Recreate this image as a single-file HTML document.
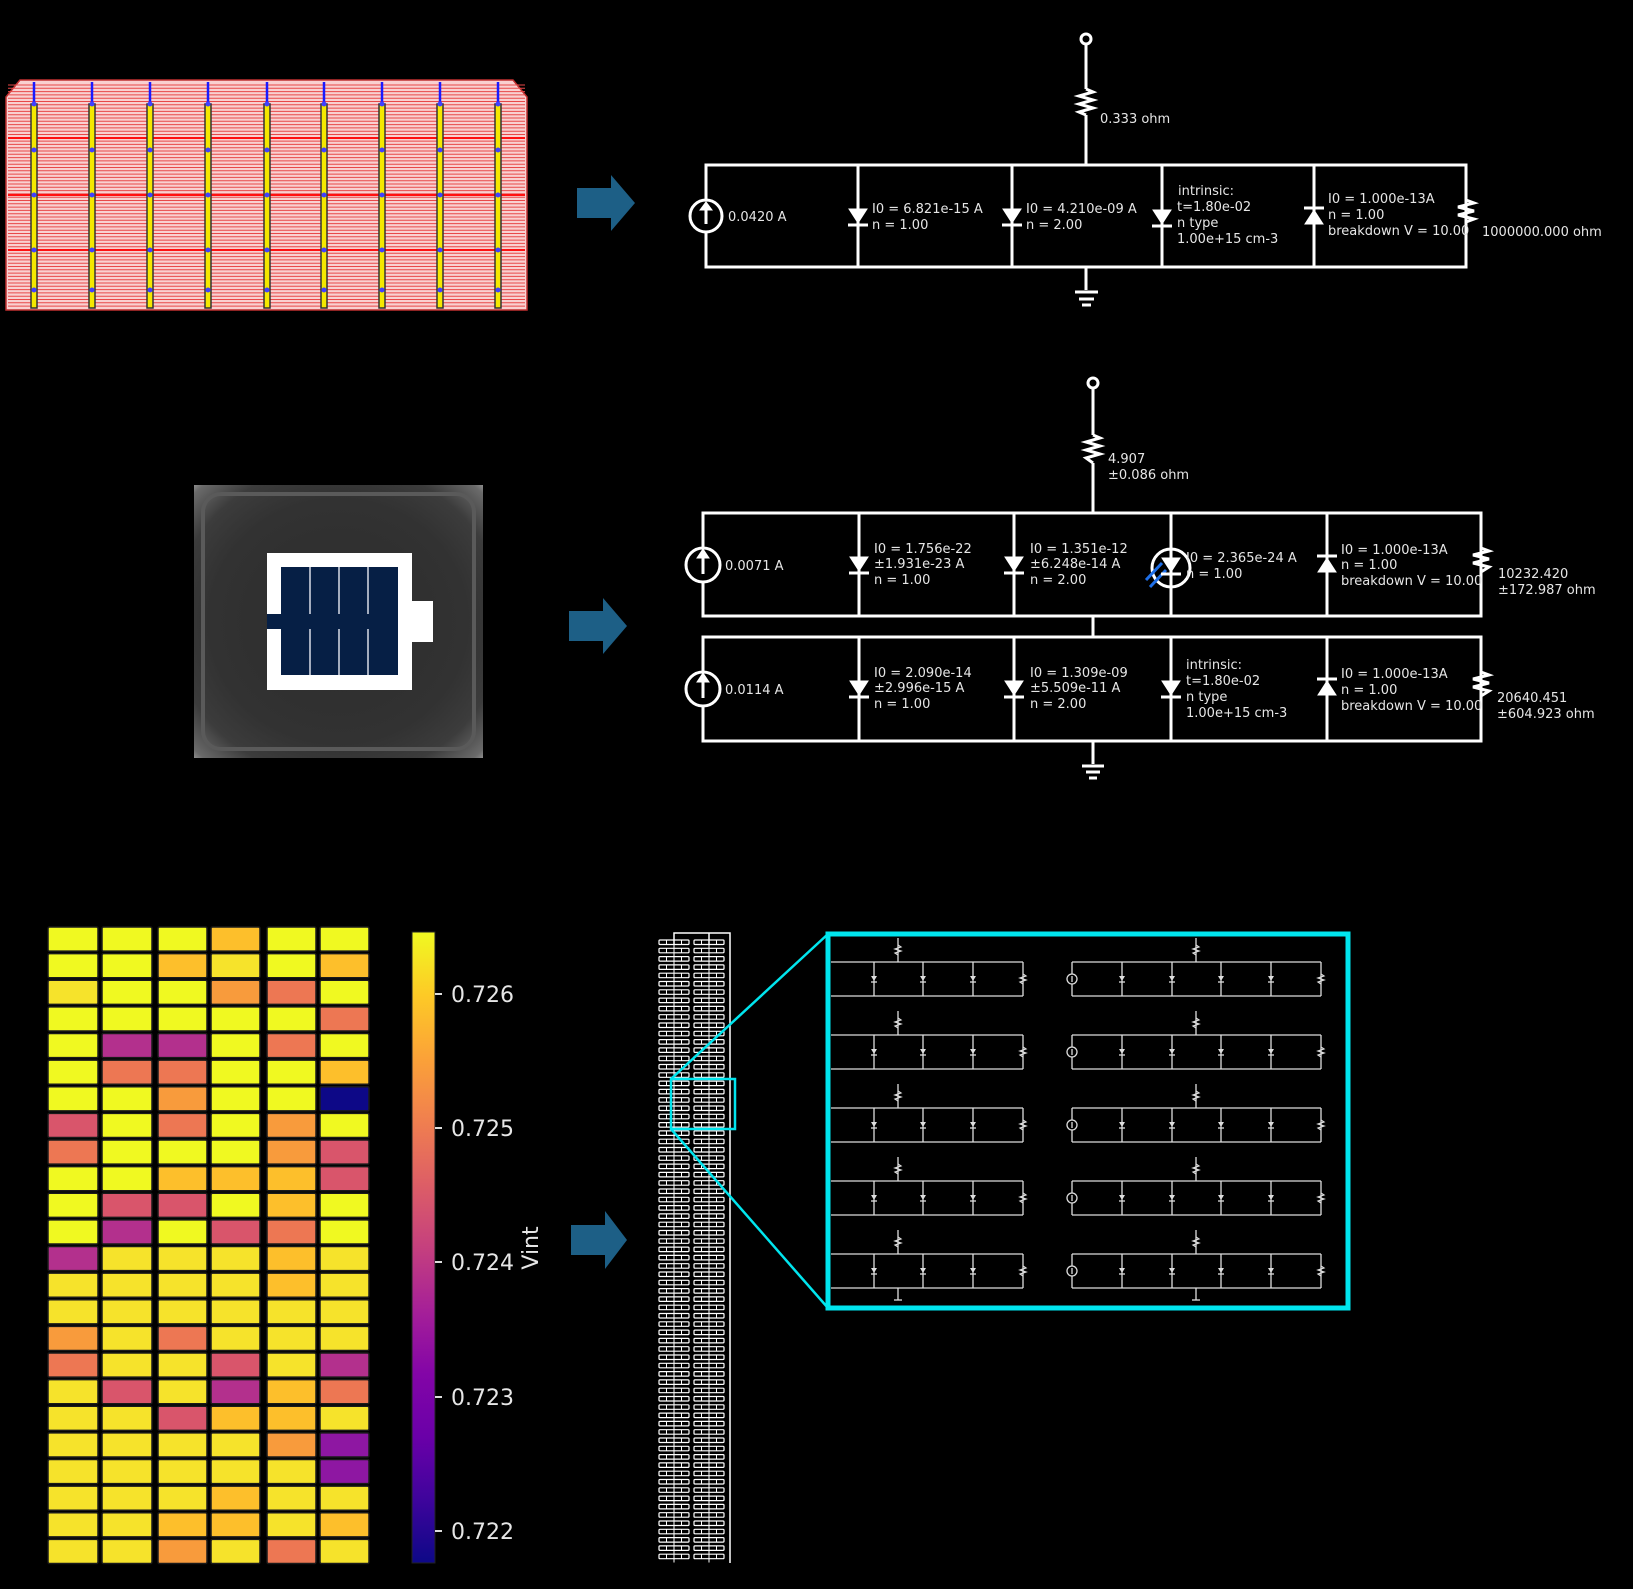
<!DOCTYPE html>
<html><head><meta charset="utf-8">
<style>
html,body{margin:0;padding:0;background:#000;}
svg{display:block}
text{font-family:"DejaVu Sans","Liberation Sans",sans-serif;fill:#e6e6e6}
</style></head>
<body>
<svg id="s" width="1633" height="1589" viewBox="0 0 1633 1589" xmlns="http://www.w3.org/2000/svg">
<defs>
<linearGradient id="plasma" x1="0" y1="0" x2="0" y2="1">
<stop offset="0" stop-color="#f0f921"/><stop offset=".1" stop-color="#fdca26"/><stop offset=".2" stop-color="#fba238"/><stop offset=".3" stop-color="#f07f4f"/><stop offset=".4" stop-color="#dd5e66"/><stop offset=".5" stop-color="#c5407e"/><stop offset=".6" stop-color="#a62098"/><stop offset=".7" stop-color="#8305a7"/><stop offset=".8" stop-color="#6a00a8"/><stop offset=".9" stop-color="#3e049c"/><stop offset="1" stop-color="#0d0887"/>
</linearGradient>
<radialGradient id="photo" cx=".5" cy=".5" r=".72">
<stop offset="0" stop-color="#2c2c2c"/><stop offset=".62" stop-color="#323232"/><stop offset=".8" stop-color="#3c3c3c"/><stop offset=".95" stop-color="#6a6a6a"/><stop offset="1" stop-color="#a0a0a0"/>
</radialGradient>
</defs>
<rect width="1633" height="1589" fill="#000"/>

<!-- top solar cell -->
<path d="M6,97 L20,80 L513,80 L527,97 L527,310 L6,310 Z" fill="#f9d0d0" stroke="#c03030" stroke-width="1.5"/>
<g id="solar"></g>

<!-- arrows -->
<g fill="#1d5f86">
<path d="M577,188 L611,188 L611,175 L635,203 L611,231 L611,218 L577,218 Z"/>
<path d="M569,611 L603,611 L603,598 L627,626 L603,654 L603,641 L569,641 Z"/>
<path d="M571,1225 L605,1225 L605,1211 L627,1240 L605,1269 L605,1255 L571,1255 Z"/>
</g>

<!-- circuit 1 -->
<g stroke="#fff" stroke-width="3" fill="none">
<circle cx="1086" cy="39" r="5"/>
<line x1="1086" y1="44" x2="1086" y2="89"/>
<polyline points="1086,89 1093,92 1079,96 1093,100 1079,104 1093,108 1079,112 1086,115"/>
<line x1="1086" y1="115" x2="1086" y2="165"/>
<rect x="706" y="165" width="760" height="102"/>
<line x1="858" y1="165" x2="858" y2="267"/>
<line x1="1012" y1="165" x2="1012" y2="267"/>
<line x1="1162" y1="165" x2="1162" y2="267"/>
<line x1="1314" y1="165" x2="1314" y2="267"/>
<line x1="1086" y1="267" x2="1086" y2="290"/>
<line x1="1075" y1="292" x2="1098" y2="292"/>
<line x1="1079" y1="299" x2="1094" y2="299"/>
<line x1="1082" y1="305" x2="1091" y2="305"/>
<circle cx="706" cy="216" r="16" fill="#000"/>
<line x1="706" y1="224" x2="706" y2="206"/>
<polyline points="1466,200 1474,203 1458,207 1474,211 1458,215 1474,219 1466,222"/>
</g>
<g fill="#fff" stroke="#fff" stroke-width="3">
<path d="M700,210 L706,202 L712,210 Z" stroke-width="1"/>
<path d="M849,209 L867,209 L858,223 Z" stroke-width="1"/><line x1="848" y1="225" x2="868" y2="225"/>
<path d="M1003,209 L1021,209 L1012,223 Z" stroke-width="1"/><line x1="1002" y1="225" x2="1022" y2="225"/>
<path d="M1153,210 L1171,210 L1162,224 Z" stroke-width="1"/><line x1="1152" y1="226" x2="1172" y2="226"/>
<path d="M1305,224 L1323,224 L1314,210 Z" stroke-width="1"/><line x1="1304" y1="208" x2="1324" y2="208"/>
</g>
<g font-size="13">
<text x="1100" y="123">0.333 ohm</text>
<text x="728" y="221">0.0420 A</text>
<text x="872" y="213">I0 = 6.821e-15 A</text><text x="872" y="229">n = 1.00</text>
<text x="1026" y="213">I0 = 4.210e-09 A</text><text x="1026" y="229">n = 2.00</text>
<text x="1178" y="195">intrinsic:</text><text x="1177" y="211">t=1.80e-02</text><text x="1177" y="227">n type</text><text x="1177" y="243">1.00e+15 cm-3</text>
<text x="1328" y="203">I0 = 1.000e-13A</text><text x="1328" y="219">n = 1.00</text><text x="1328" y="235">breakdown V = 10.00</text>
<text x="1482" y="236">1000000.000 ohm</text>
</g>

<!-- circuit 2 -->
<g stroke="#fff" stroke-width="3" fill="none">
<circle cx="1093" cy="383" r="5"/>
<line x1="1093" y1="388" x2="1093" y2="435"/>
<polyline points="1093,435 1100,438 1086,442 1100,446 1086,450 1100,454 1086,458 1093,463"/>
<line x1="1093" y1="463" x2="1093" y2="513"/>
<rect x="703" y="513" width="778" height="103"/>
<rect x="703" y="637" width="778" height="104"/>
<line x1="859" y1="513" x2="859" y2="616"/><line x1="1014" y1="513" x2="1014" y2="616"/><line x1="1171" y1="513" x2="1171" y2="616"/><line x1="1327" y1="513" x2="1327" y2="616"/>
<line x1="859" y1="637" x2="859" y2="741"/><line x1="1014" y1="637" x2="1014" y2="741"/><line x1="1171" y1="637" x2="1171" y2="741"/><line x1="1327" y1="637" x2="1327" y2="741"/>
<line x1="1093" y1="616" x2="1093" y2="637"/>
<line x1="1093" y1="741" x2="1093" y2="764"/>
<line x1="1082" y1="766" x2="1104" y2="766"/><line x1="1086" y1="772" x2="1100" y2="772"/><line x1="1089" y1="778" x2="1097" y2="778"/>
<circle cx="703" cy="565" r="17" fill="#000"/><line x1="703" y1="574" x2="703" y2="555"/>
<circle cx="703" cy="689" r="17" fill="#000"/><line x1="703" y1="698" x2="703" y2="679"/>
<circle cx="1171" cy="568" r="19"/>
<polyline points="1481,548 1489,551 1473,555 1489,559 1473,563 1489,567 1481,572"/>
<polyline points="1481,672 1489,675 1473,679 1489,683 1473,687 1489,691 1481,696"/>
</g>
<g stroke="#1e6fe8" stroke-width="3"><line x1="1146" y1="580" x2="1162" y2="563"/><line x1="1150" y1="587" x2="1166" y2="570"/></g>
<g fill="#fff" stroke="#fff" stroke-width="3">
<path d="M697,558 L703,549 L709,558 Z" stroke-width="1"/>
<path d="M697,682 L703,673 L709,682 Z" stroke-width="1"/>
<path d="M850,557 L868,557 L859,571 Z" stroke-width="1"/><line x1="849" y1="573" x2="869" y2="573"/>
<path d="M1005,557 L1023,557 L1014,571 Z" stroke-width="1"/><line x1="1004" y1="573" x2="1024" y2="573"/>
<path d="M1162,558 L1180,558 L1171,572 Z" stroke-width="1"/><line x1="1161" y1="574" x2="1181" y2="574"/>
<path d="M1318,572 L1336,572 L1327,558 Z" stroke-width="1"/><line x1="1317" y1="556" x2="1337" y2="556"/>
<path d="M850,681 L868,681 L859,695 Z" stroke-width="1"/><line x1="849" y1="697" x2="869" y2="697"/>
<path d="M1005,681 L1023,681 L1014,695 Z" stroke-width="1"/><line x1="1004" y1="697" x2="1024" y2="697"/>
<path d="M1162,681 L1180,681 L1171,695 Z" stroke-width="1"/><line x1="1161" y1="697" x2="1181" y2="697"/>
<path d="M1318,695 L1336,695 L1327,681 Z" stroke-width="1"/><line x1="1317" y1="679" x2="1337" y2="679"/>
</g>
<g font-size="13">
<text x="1108" y="463">4.907</text><text x="1108" y="479">±0.086 ohm</text>
<text x="725" y="570">0.0071 A</text>
<text x="874" y="553">I0 = 1.756e-22</text><text x="874" y="568">±1.931e-23 A</text><text x="874" y="584">n = 1.00</text>
<text x="1030" y="553">I0 = 1.351e-12</text><text x="1030" y="568">±6.248e-14 A</text><text x="1030" y="584">n = 2.00</text>
<text x="1186" y="562">I0 = 2.365e-24 A</text><text x="1186" y="578">n = 1.00</text>
<text x="1341" y="554">I0 = 1.000e-13A</text><text x="1341" y="569">n = 1.00</text><text x="1341" y="585">breakdown V = 10.00</text>
<text x="1498" y="578">10232.420</text><text x="1498" y="594">±172.987 ohm</text>
<text x="725" y="694">0.0114 A</text>
<text x="874" y="677">I0 = 2.090e-14</text><text x="874" y="692">±2.996e-15 A</text><text x="874" y="708">n = 1.00</text>
<text x="1030" y="677">I0 = 1.309e-09</text><text x="1030" y="692">±5.509e-11 A</text><text x="1030" y="708">n = 2.00</text>
<text x="1186" y="669">intrinsic:</text><text x="1186" y="685">t=1.80e-02</text><text x="1186" y="701">n type</text><text x="1186" y="717">1.00e+15 cm-3</text>
<text x="1341" y="678">I0 = 1.000e-13A</text><text x="1341" y="694">n = 1.00</text><text x="1341" y="710">breakdown V = 10.00</text>
<text x="1497" y="702">20640.451</text><text x="1497" y="718">±604.923 ohm</text>
</g>

<!-- cell photo -->
<rect x="194" y="485" width="289" height="273" fill="url(#photo)"/>
<rect x="203" y="494" width="271" height="255" fill="none" stroke="#5a5a5a" stroke-width="4" rx="18"/>
<rect x="267" y="553" width="145" height="137" fill="#fff"/>
<rect x="412" y="601" width="21" height="41" fill="#fff"/>
<rect x="281" y="567" width="117" height="108" fill="#061f45"/>
<rect x="267" y="614" width="14" height="15" fill="#061f45"/>
<g stroke="#d8dde6" stroke-width="1.5"><line x1="310" y1="567" x2="310" y2="614"/><line x1="310" y1="629" x2="310" y2="675"/><line x1="339" y1="567" x2="339" y2="614"/><line x1="339" y1="629" x2="339" y2="675"/><line x1="368" y1="567" x2="368" y2="614"/><line x1="368" y1="629" x2="368" y2="675"/></g>

<!-- heatmap -->
<g id="heat"></g>
<rect x="412" y="932" width="23" height="631" fill="url(#plasma)" stroke="#222" stroke-width="1"/>
<g stroke="#ddd" stroke-width="2"><line x1="435" y1="994" x2="442" y2="994"/><line x1="435" y1="1128" x2="442" y2="1128"/><line x1="435" y1="1262" x2="442" y2="1262"/><line x1="435" y1="1397" x2="442" y2="1397"/><line x1="435" y1="1531" x2="442" y2="1531"/></g>
<g font-size="22">
<text x="451" y="1002">0.726</text><text x="451" y="1136">0.725</text><text x="451" y="1270">0.724</text><text x="451" y="1405">0.723</text><text x="451" y="1539">0.722</text>
<text transform="translate(538,1248) rotate(-90)" text-anchor="middle">Vint</text>
</g>

<!-- tall column -->
<g id="col"></g>
<g stroke="#00e5ee" fill="none">
<rect x="671" y="1079" width="64" height="50" stroke-width="2.5"/>
<line x1="671" y1="1079" x2="828" y2="934" stroke-width="2.5"/>
<line x1="671" y1="1129" x2="828" y2="1308" stroke-width="2.5"/>
</g>
<g id="mini"></g>
<rect x="828" y="934" width="520" height="374" fill="none" stroke="#00e5ee" stroke-width="5"/>
</svg>
<script>
var NS="http://www.w3.org/2000/svg";
function el(p,t,a){var e=document.createElementNS(NS,t);for(var k in a)e.setAttribute(k,a[k]);p.appendChild(e);return e;}
var g=document.getElementById('solar');
for(var y=85;y<309;y+=3.3){el(g,'line',{x1:8,y1:y,x2:525,y2:y,stroke:'#e84848','stroke-width':1});}
[138,195,250].forEach(function(y){el(g,'line',{x1:8,y1:y,x2:525,y2:y,stroke:'#ff1010','stroke-width':2});});
[34,92,150,208,267,324,382,440,498].forEach(function(x){
 el(g,'rect',{x:x-3,y:104,width:6,height:204,fill:'#f5e800',stroke:'#333','stroke-width':1.5});
 el(g,'line',{x1:x,y1:82,x2:x,y2:104,stroke:'#1a1aff','stroke-width':2.5});
 [104,150,195,250,290].forEach(function(yy){el(g,'circle',{cx:x,cy:yy,r:2.5,fill:'#4040ff'});});
});
var C={Y:'#f0f921',G:'#f6e32b',L:'#fdbf2b',O:'#f89b3c',R:'#ed7753',K:'#d9556b',P:'#b3308d',V:'#8e17a2',N:'#0d0887'};
var rows=["YYYLYY","YYLGYL","GYYORY","YYYYYR","YPPYRY","YRRYYL","YYOYYN","KYRYOY","RYYYOK","YYLLLK","YKKYLY","YPYKRY","PGGGLG","GGGGLG","GGGGGG","OGRGGG","RGGKGP","GKGPLR","GGKLLG","GGGGOV","GGGGGV","GGGLGG","GGLLGL","GGOGRG"];
var cols=[[47,99],[101,153],[157,208],[210,261],[266,317],[319,370]];
var h=document.getElementById('heat');var pitch=(1565-926)/24;
rows.forEach(function(r,i){for(var j=0;j<6;j++){var y=926+i*pitch;el(h,'rect',{x:cols[j][0]+1,y:y+1,width:cols[j][1]-cols[j][0]-2,height:pitch-2.5,fill:C[r[j]],stroke:'#1a1a1a','stroke-width':1.5,rx:1.5});}});
var c=document.getElementById('col');
el(c,'polyline',{points:'674,945 674,933 730,933 730,1563',fill:'none',stroke:'#fff','stroke-width':1.5});
el(c,'line',{x1:709,y1:933,x2:709,y2:945,stroke:'#fff','stroke-width':1.5});
for(var y=940;y<1560;y+=8.3){
 [[659,689],[694,724]].forEach(function(p){
  el(c,'rect',{x:p[0],y:y,width:p[1]-p[0],height:4.5,fill:'none',stroke:'#fff','stroke-width':1.2,rx:1});
  for(var k=1;k<4;k++){el(c,'line',{x1:p[0]+k*(p[1]-p[0])/4,y1:y,x2:p[0]+k*(p[1]-p[0])/4,y2:y+4.5,stroke:'#fff','stroke-width':1});}
 });
 el(c,'line',{x1:674,y1:y+4.5,x2:674,y2:y+8.3,stroke:'#fff','stroke-width':1});
 el(c,'line',{x1:709,y1:y+4.5,x2:709,y2:y+8.3,stroke:'#fff','stroke-width':1});
}
var m=document.getElementById('mini');var S='#ddd';
function L(x1,y1,x2,y2){el(m,'line',{x1:x1,y1:y1,x2:x2,y2:y2,stroke:S,'stroke-width':1.3});}
function diode(x,y){el(m,'path',{d:'M'+(x-3)+','+(y-3)+' L'+(x+3)+','+(y-3)+' L'+x+','+(y+2)+' Z',fill:S});L(x-3,y+3,x+3,y+3);}
function resV(x,y){el(m,'polyline',{points:x+','+(y-5)+' '+(x+3)+','+(y-3)+' '+(x-3)+','+(y-1)+' '+(x+3)+','+(y+1)+' '+(x-3)+','+(y+3)+' '+x+','+(y+5),fill:'none',stroke:S,'stroke-width':1.2});}
for(var i=0;i<5;i++){
 var y0=962+i*73,y1=y0+34,ym=y0+17;
 L(831,y0,1023,y0);L(831,y1,1023,y1);L(1023,y0,1023,y1);
 [874,923,973].forEach(function(x){L(x,y0,x,y1);diode(x,ym);});
 resV(1023,ym);
 L(898,y0-24,898,y0);resV(898,y0-12);
 L(1072,y0,1321,y0);L(1072,y1,1321,y1);L(1321,y0,1321,y1);L(1072,y0,1072,y1);
 el(m,'circle',{cx:1072,cy:ym,r:5,fill:'#000',stroke:S,'stroke-width':1.3});L(1072,ym+3,1072,ym-3);
 [1122,1172,1221,1271].forEach(function(x){L(x,y0,x,y1);diode(x,ym);});
 resV(1321,ym);
 L(1196,y0-24,1196,y0);resV(1196,y0-12);
}
L(898,1288,898,1300);L(894,1300,902,1300);L(1196,1288,1196,1300);L(1192,1300,1200,1300);
</script>
</body></html>
